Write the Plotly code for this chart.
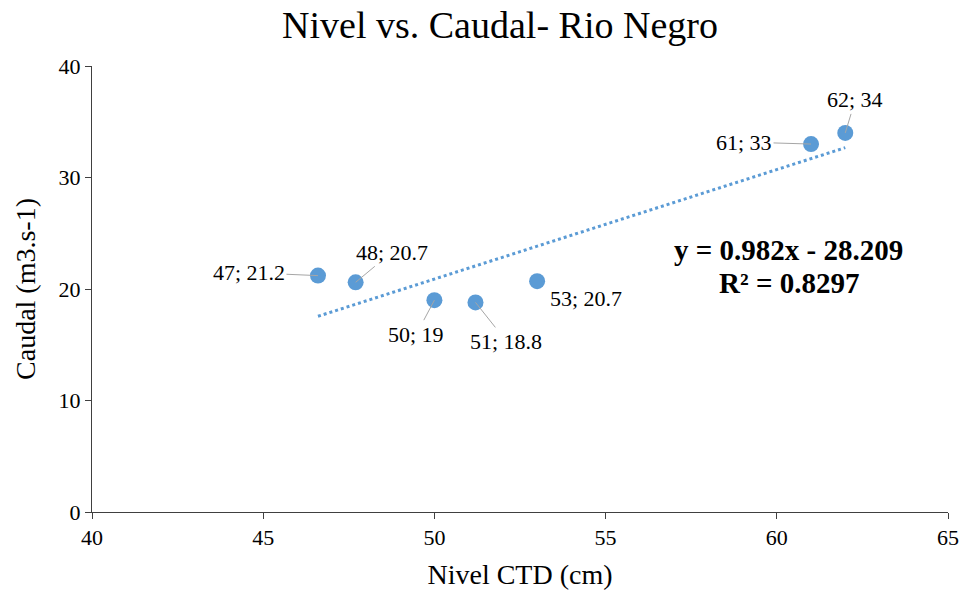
import plotly.graph_objects as go

nivel = [46.6, 47.7, 50.0, 51.2, 53.0, 61.0, 62.0]
caudal = [21.2, 20.6, 19.0, 18.8, 20.7, 33.0, 34.0]
labels = ["47; 21.2", "48; 20.7", "50; 19", "51; 18.8", "53; 20.7", "61; 33", "62; 34"]
# label offsets (pixels) relative to point, and whether a leader line is drawn
label_dx = [-69, 36, -18, 31, 49, -67, 10]
label_dy = [-3, -30, 34, 39, 17, -2, -33]
leader = [True, True, True, True, False, True, True]

slope = 0.982
intercept = -28.209
r2 = 0.8297
trend_x = [min(nivel), max(nivel)]
trend_y = [slope * v + intercept for v in trend_x]

color = "#5B9BD5"
font = "Liberation Serif"

fig = go.Figure()
fig.add_trace(go.Scatter(x=trend_x, y=trend_y, mode="lines",
                         line=dict(color=color, width=3, dash="dot"), hoverinfo="skip"))
fig.add_trace(go.Scatter(x=nivel, y=caudal, mode="markers",
                         marker=dict(color=color, size=16, line=dict(width=0))))

for x, y, t, dx, dy, ld in zip(nivel, caudal, labels, label_dx, label_dy, leader):
    fig.add_annotation(x=x, y=y, text=t, showarrow=ld, ax=dx, ay=dy,
                       arrowhead=0, arrowwidth=1, arrowcolor="#A6A6A6", standoff=0,
                       font=dict(family=font, size=22, color="#000000"),
                       xshift=0 if ld else dx, yshift=0 if ld else -dy)

fig.add_annotation(x=60.35, y=23.46, showarrow=False,
                   text=f"<b>y = {slope}x - {abs(intercept)}</b>",
                   font=dict(family=font, size=29, color="#000000"),
                   xanchor="center", yanchor="middle")
fig.add_annotation(x=60.35, y=20.5, showarrow=False,
                   text=f"<b>R² = {r2}</b>",
                   font=dict(family=font, size=29, color="#000000"),
                   xanchor="center", yanchor="middle")

fig.update_layout(
    width=971, height=599,
    margin=dict(l=92, r=14, t=66, b=87),
    paper_bgcolor="white", plot_bgcolor="white",
    showlegend=False,
    title=dict(text="Nivel vs. Caudal- Rio Negro", xref="paper" if False else "container",
               x=500 / 971, xanchor="center",
               yref="container", y=1 - 25 / 599, yanchor="middle",
               font=dict(family=font, size=38, color="#000000")),
    font=dict(family=font, color="#000000"),
)
fig.update_xaxes(range=[40, 65], dtick=5, showgrid=False, zeroline=False,
                 showline=True, linecolor="#404040", linewidth=1,
                 ticks="outside", ticklen=6, tickcolor="#404040",
                 tickfont=dict(family=font, size=22, color="#000000"),
                 title=dict(text="Nivel CTD (cm)", font=dict(family=font, size=28, color="#000000"), standoff=14))
fig.update_yaxes(range=[0, 40], dtick=10, showgrid=False, zeroline=False,
                 showline=True, linecolor="#404040", linewidth=1,
                 ticks="outside", ticklen=6, tickcolor="#404040",
                 tickfont=dict(family=font, size=22, color="#000000"),
                 title=dict(text="Caudal (m3.s-1)", font=dict(family=font, size=28, color="#000000"), standoff=14))

fig.write_html("out.html")
